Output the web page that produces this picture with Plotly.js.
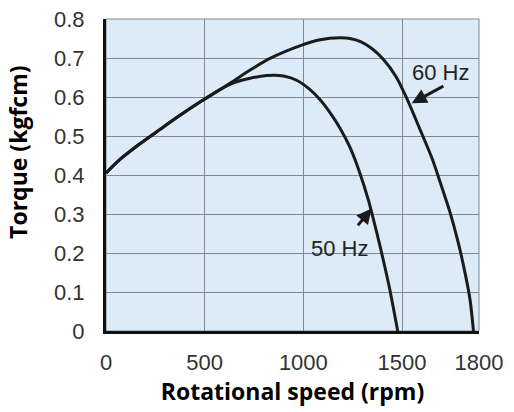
<!DOCTYPE html>
<html>
<head>
<meta charset="utf-8">
<script src="https://cdn.plot.ly/plotly-3.0.1.min.js"></script>
<style>html,body{margin:0;padding:0;background:#fff}#chart{width:514px;height:412px}</style>
</head>
<body>
<div id="chart"></div>
<script>
// Data
const speed60 = [0, 71, 172, 274, 375, 476, 578, 640, 730, 831, 992, 1085, 1186, 1237, 1290, 1345, 1405, 1470, 1528, 1591, 1651, 1693, 1744, 1786, 1820, 1845, 1862];
const torque60 = [0.405, 0.440, 0.480, 0.517, 0.553, 0.587, 0.619, 0.639, 0.669, 0.699, 0.733, 0.747, 0.752, 0.750, 0.742, 0.725, 0.697, 0.652, 0.592, 0.517, 0.444, 0.382, 0.303, 0.224, 0.147, 0.079, 0];
const speed50 = [0, 71, 172, 274, 375, 476, 578, 640, 730, 814, 899, 966, 1034, 1085, 1135, 1186, 1237, 1287, 1330, 1372, 1405, 1439, 1478];
const torque50 = [0.405, 0.440, 0.480, 0.517, 0.553, 0.587, 0.619, 0.635, 0.648, 0.655, 0.654, 0.643, 0.619, 0.593, 0.560, 0.520, 0.470, 0.404, 0.335, 0.252, 0.182, 0.104, 0];
const xTickVals = [0, 500, 1000, 1500, 1890];
const xTickText = ['0', '500', '1000', '1500', '1800'];
const yTickVals = [0, 0.1, 0.2, 0.3, 0.4, 0.5, 0.6, 0.7, 0.8];
const seriesLabels = ['60 Hz', '50 Hz'];
const labelPos = [[1693, 0.664], [1181, 0.212]];
const arrowHead = [[1549, 0.584], [1346, 0.314]];
const arrowTail = [[1717, 0.630], [1270, 0.267]];

const lineStyle = {color: '#1b1b1b', width: 3, shape: 'spline', smoothing: 0.8};
const traces = [
  {x: speed60, y: torque60, mode: 'lines', line: lineStyle, name: seriesLabels[0], hoverinfo: 'x+y'},
  {x: speed50, y: torque50, mode: 'lines', line: lineStyle, name: seriesLabels[1], hoverinfo: 'x+y'}
];

const tickFont = {family: 'Liberation Sans, Arial, sans-serif', size: 22, color: '#333333'};
const titleFont = {family: 'Open Sans, sans-serif', size: 23, color: '#000000', weight: 'bold'};

const annotations = [];
for (let i = 0; i < seriesLabels.length; i++) {
  annotations.push({x: labelPos[i][0], y: labelPos[i][1], xref: 'x', yref: 'y', text: seriesLabels[i],
    showarrow: false, font: {family: 'Liberation Sans, Arial, sans-serif', size: 22, color: '#222222'}});
  annotations.push({x: arrowHead[i][0], y: arrowHead[i][1], ax: arrowTail[i][0], ay: arrowTail[i][1],
    xref: 'x', yref: 'y', axref: 'x', ayref: 'y', text: '', showarrow: true,
    arrowhead: 2, arrowsize: 1, arrowwidth: 3, arrowcolor: '#1b1b1b'});
}
annotations.push({xref: 'paper', yref: 'paper', x: -0.236, y: 0.574, xanchor: 'center', yanchor: 'middle',
  text: 'Torque (kgfcm)', textangle: -90, showarrow: false, font: titleFont});

const layout = {
  width: 514, height: 412,
  margin: {l: 106, r: 35, t: 19, b: 81},
  paper_bgcolor: '#ffffff',
  plot_bgcolor: '#dcebf7',
  showlegend: false,
  xaxis: {
    range: [0, 1890], tickvals: xTickVals, ticktext: xTickText,
    showgrid: true, gridcolor: '#7d8893', gridwidth: 1, zeroline: false,
    showline: true, linecolor: '#111111', linewidth: 3,
    ticks: 'outside', ticklen: 10, tickcolor: 'rgba(0,0,0,0)',
    tickfont: tickFont,
    title: {text: 'Rotational speed (rpm)', font: titleFont, standoff: 4}
  },
  yaxis: {
    range: [0, 0.8], tickvals: yTickVals,
    showgrid: true, gridcolor: '#7d8893', gridwidth: 1, zeroline: false,
    showline: true, linecolor: '#111111', linewidth: 3,
    ticks: 'outside', ticklen: 14, tickcolor: 'rgba(0,0,0,0)',
    tickfont: tickFont
  },
  shapes: [{type: 'rect', xref: 'paper', yref: 'paper', x0: 0, x1: 1, y0: 0, y1: 1,
    line: {color: '#7d8893', width: 1}, layer: 'below'}],
  annotations: annotations
};

Plotly.newPlot('chart', traces, layout, {displayModeBar: false, staticPlot: true});
</script>
</body>
</html>
